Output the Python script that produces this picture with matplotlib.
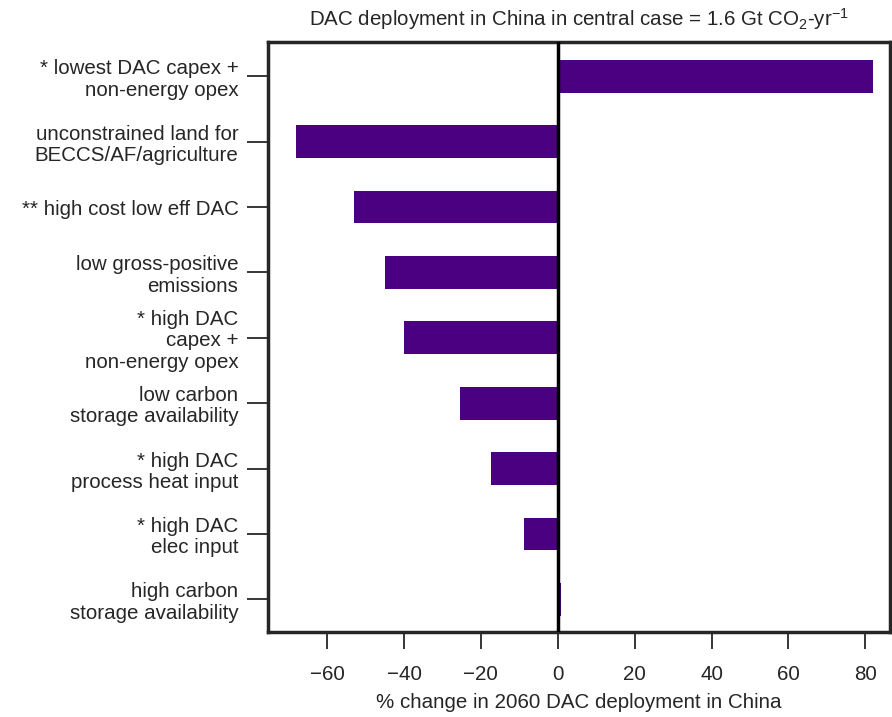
import matplotlib
matplotlib.use("Agg")
import matplotlib.pyplot as plt

categories = [
    "* lowest DAC capex +\nnon-energy opex",
    "unconstrained land for\nBECCS/AF/agriculture",
    "** high cost low eff DAC",
    "low gross-positive\nemissions",
    "* high DAC\ncapex +\nnon-energy opex",
    "low carbon\nstorage availability",
    "* high DAC\nprocess heat input",
    "* high DAC\nelec input",
    "high carbon\nstorage availability",
]
values = [82.0, -68.0, -53.0, -45.0, -40.0, -25.5, -17.3, -8.9, 0.9]
xticks = [-60, -40, -20, 0, 20, 40, 60, 80]

plt.rcParams['font.family'] = ['Liberation Sans', 'DejaVu Sans']
plt.rcParams['mathtext.fontset'] = 'custom'
plt.rcParams['mathtext.rm'] = 'Liberation Sans'
plt.rcParams['mathtext.it'] = 'Liberation Sans:italic'

FS = 14.8
TXT = "#262626"

fig = plt.figure(figsize=(8.92, 7.17), dpi=100)
ax = fig.add_axes([0.300, 0.1185, 0.698, 0.8225])

ypos = list(range(len(categories)))
ax.barh(ypos, values, height=0.5, color="#4B0082")
ax.axvline(0, color="black", lw=2.5, zorder=3)

ax.set_ylim(len(categories) - 0.5, -0.52)
ax.set_xlim(-75.5, 86.5)
ax.set_yticks(ypos)
ax.set_yticklabels(categories, fontsize=FS, color=TXT, linespacing=1.15)
ax.set_xticks(xticks)
ax.set_xticklabels([f"\u2212{abs(t)}" if t < 0 else str(t) for t in xticks], fontsize=FS, color=TXT)
ax.tick_params(axis='y', length=15, width=1.3, color=TXT, pad=6)
ax.tick_params(axis='x', length=12, width=1.3, color=TXT, pad=12)
for s in ax.spines.values():
    s.set_linewidth(2.5)
    s.set_color(TXT)

ax.set_xlabel("% change in 2060 DAC deployment in China", fontsize=FS, color=TXT, labelpad=6)
ax.set_title(r"DAC deployment in China in central case = 1.6 Gt CO$_2$-yr$^{-1}$",
             fontsize=FS, color=TXT, pad=12)

fig.savefig("out.png", dpi=100)
